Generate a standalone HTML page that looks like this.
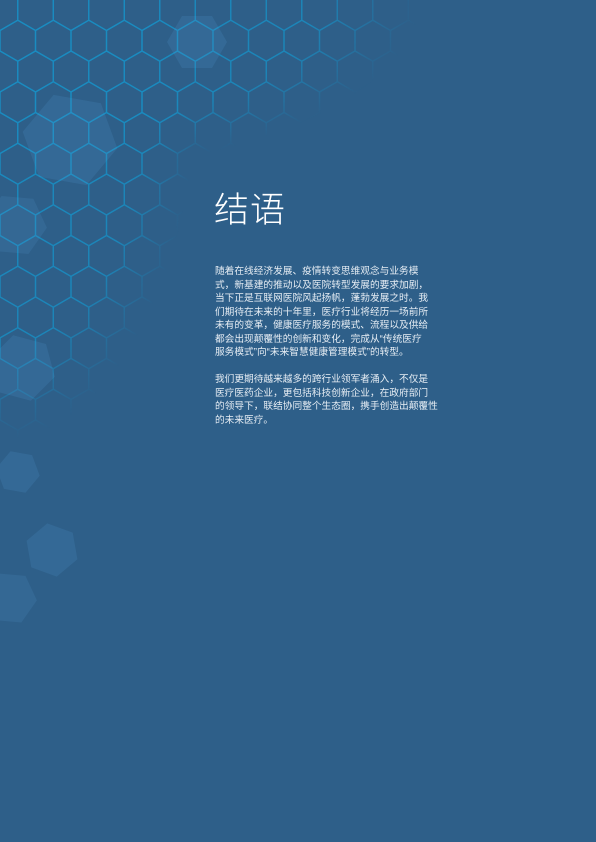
<!DOCTYPE html>
<html><head><meta charset="utf-8">
<style>
html,body{margin:0;padding:0;}
body{width:596px;height:842px;background:#2e5f89;position:relative;overflow:hidden;font-family:"Liberation Sans","Noto Sans CJK SC",sans-serif;}
#bg{position:absolute;left:0;top:0;}
.title{position:absolute;left:214px;top:190px;font-size:35px;color:#fff;font-weight:300;letter-spacing:1px;line-height:42px;margin:0;font-family:"Liberation Sans","Noto Sans CJK SC",sans-serif;}
.body{position:absolute;left:215px;width:215px;font-size:9.7px;line-height:13.55px;color:#e6edf4;margin:0;white-space:nowrap;}
</style></head>
<body>
<svg id="bg" width="596" height="842">
<defs>
<radialGradient id="fadeA" gradientUnits="userSpaceOnUse" cx="0" cy="0" r="420" gradientTransform="translate(0,0) scale(1,0.42)">
<stop offset="0" stop-color="#fff" stop-opacity="1"/>
<stop offset="0.75" stop-color="#fff" stop-opacity="0.85"/>
<stop offset="1" stop-color="#fff" stop-opacity="0"/>
</radialGradient>
<radialGradient id="fadeB" gradientUnits="userSpaceOnUse" cx="0" cy="0" r="200" gradientTransform="translate(0,60) scale(1,1.9)">
<stop offset="0" stop-color="#fff" stop-opacity="1"/>
<stop offset="0.75" stop-color="#fff" stop-opacity="0.85"/>
<stop offset="1" stop-color="#fff" stop-opacity="0"/>
</radialGradient>
<mask id="m"><rect width="596" height="842" fill="url(#fadeA)"/><rect width="596" height="842" fill="url(#fadeB)"/></mask>
</defs>
<g id="grid" mask="url(#m)" fill="none" stroke="#1a8cc0" stroke-width="1.3"></g>
<g id="soft"></g>
</svg>
<h1 class="title">结语</h1>
<p class="body" style="top:265px">随着在线经济发展、疫情转变思维观念与业务模<br>式，新基建的推动以及医院转型发展的要求加剧，<br>当下正是互联网医院风起扬帆，蓬勃发展之时。我<br>们期待在未来的十年里，医疗行业将经历一场前所<br>未有的变革，健康医疗服务的模式、流程以及供给<br>都会出现颠覆性的创新和变化，完成从“传统医疗<br>服务模式”向“未来智慧健康管理模式”的转型。</p>
<p class="body" style="top:373px">我们更期待越来越多的跨行业领军者涌入，不仅是<br>医疗医药企业，更包括科技创新企业，在政府部门<br>的领导下，联结协同整个生态圈，携手创造出颠覆性<br>的未来医疗。</p>
<script>
var NS='http://www.w3.org/2000/svg';
var g=document.getElementById('grid');
var w=35.5, s=w/Math.sqrt(3), pitch=1.5*s;
function hexPts(cx,cy,r,rot){var p=[];for(var i=0;i<6;i++){var a=(rot+60*i)*Math.PI/180;p.push((cx+r*Math.cos(a)).toFixed(1)+','+(cy+r*Math.sin(a)).toFixed(1));}return p.join(' ');}
for(var row=0;row<16;row++){
  var cy=10+row*pitch;
  for(var col=-1;col<14;col++){
    var cx=(row%2===0)?col*w:col*w+w/2;
    var pg=document.createElementNS(NS,'polygon');
    pg.setAttribute('points',hexPts(cx,cy,s,-90));
    
    
    g.appendChild(pg);
  }
}
var soft=document.getElementById('soft');
var softs=[[70,140,48,10,0.10],[197,42,30,0,0.10],[15,225,32,5,0.09],[22,368,34,15,0.10],[18,472,22,10,0.10],[52,550,27,20,0.10],[10,598,27,5,0.09]];
softs.forEach(function(h){
  var pg=document.createElementNS(NS,'polygon');
  pg.setAttribute('points',hexPts(h[0],h[1],h[2],h[3]));
  pg.setAttribute('fill','rgba(90,160,215,'+h[4]*1.6+')');
  
  
  soft.appendChild(pg);
});
</script>
</body></html>
